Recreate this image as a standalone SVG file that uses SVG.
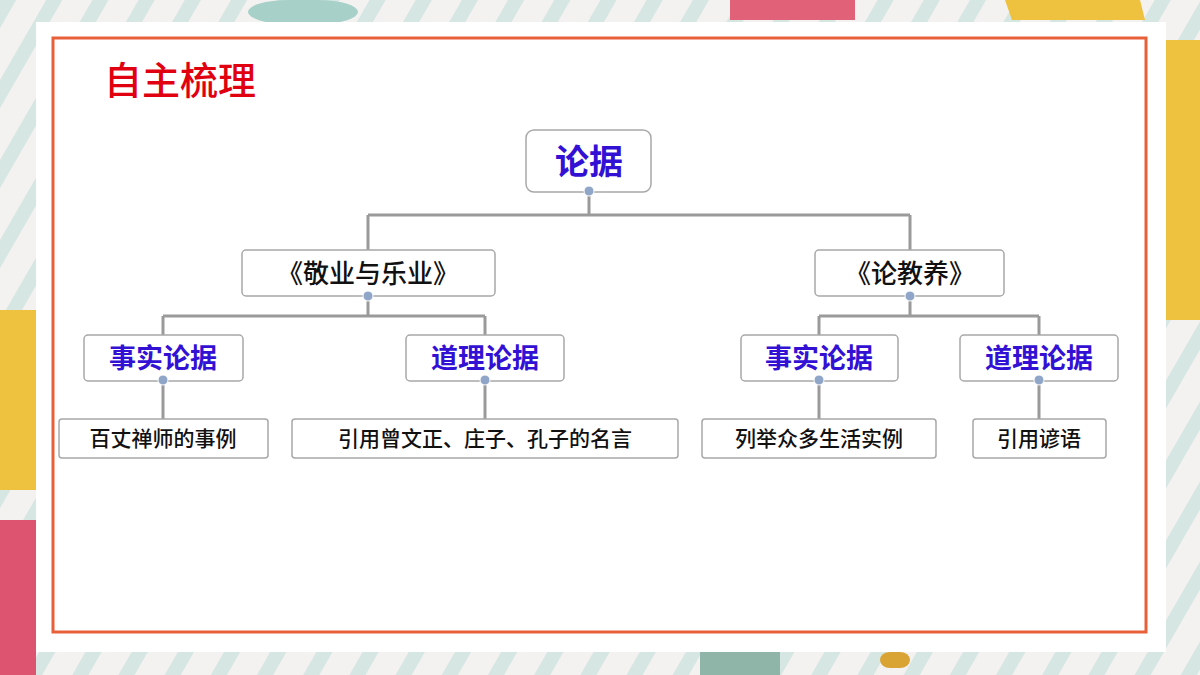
<svg xmlns="http://www.w3.org/2000/svg" width="1200" height="675" viewBox="0 0 1200 675">
<defs>
<pattern id="st" width="40" height="40" patternUnits="userSpaceOnUse" patternTransform="rotate(30)">
<rect width="40" height="40" fill="#f4f1f1"/><rect width="14" height="40" fill="#d6e6e2"/>
</pattern>
<style>
.b{fill:#fff;stroke:#a8a8a8;stroke-width:1.5}
.c{fill:#8fa6c8;stroke:#fff;stroke-width:1}
.l{fill:none;stroke:#9a9a9a;stroke-width:3}
.t{font-family:"Liberation Sans","Noto Sans CJK SC",sans-serif;text-anchor:middle}
.h{fill:#3311d4;font-weight:bold;font-size:27px}
.k{fill:#111;font-size:26px;font-weight:500}
.f{fill:#111;font-size:21px;font-weight:500}
</style>
</defs>
<rect width="1200" height="675" fill="url(#st)"/>
<rect x="248" y="0" width="110" height="24" rx="40" fill="#a7d1c8"/>
<rect x="730" y="0" width="125" height="20" fill="#e06178"/>
<polygon points="1005,0 1140,0 1145,20 1012,20" fill="#eec13e"/>
<rect x="1160" y="40" width="40" height="280" fill="#eec13e"/>
<rect x="0" y="310" width="36" height="180" fill="#eec13e"/>
<rect x="0" y="520" width="36" height="155" fill="#dc5470"/>
<rect x="700" y="652" width="80" height="23" fill="#8fb4a8"/>
<rect x="880" y="652" width="30" height="16" rx="10" fill="#d9a434"/>
<rect x="36" y="22" width="1130" height="630" fill="#fff"/>
<rect x="53" y="38" width="1093" height="594" fill="none" stroke="#e8603a" stroke-width="3"/>
<text x="104" y="94" font-family="'Noto Sans CJK SC',sans-serif" font-size="38" fill="#e00010" font-weight="500">自主梳理</text>
<g id="connectors">
<path class="l" d="M589 191V215M368 215H910M368 215V250M910 215V250M368 296V316M163 316H485M163 316V335M485 316V335M910 296V316M819 316H1039M819 316V335M1039 316V335M163 381V419M485 381V419M819 381V419M1039 381V419"/>
</g>
<g id="n0"><rect class="b" x="526" y="130" width="125" height="62" rx="8"/><text class="t h" x="589" y="174" style="font-size:34px">论据</text><circle class="c" cx="589" cy="191" r="5"/></g>
<g id="n1"><rect class="b" x="242" y="250" width="253" height="46" rx="4"/><text class="t k" x="368" y="283">《敬业与乐业》</text><circle class="c" cx="368" cy="296" r="5"/></g>
<g id="n2"><rect class="b" x="815" y="250" width="189" height="46" rx="4"/><text class="t k" x="910" y="283">《论教养》</text><circle class="c" cx="910" cy="296" r="5"/></g>
<g id="n3"><rect class="b" x="84" y="335" width="159" height="46" rx="4"/><text class="t h" x="163" y="368">事实论据</text><circle class="c" cx="163" cy="380" r="5"/></g>
<g id="n4"><rect class="b" x="406" y="335" width="158" height="46" rx="4"/><text class="t h" x="485" y="368">道理论据</text><circle class="c" cx="485" cy="380" r="5"/></g>
<g id="n5"><rect class="b" x="741" y="335" width="157" height="46" rx="4"/><text class="t h" x="819" y="368">事实论据</text><circle class="c" cx="819" cy="380" r="5"/></g>
<g id="n6"><rect class="b" x="960" y="335" width="158" height="46" rx="4"/><text class="t h" x="1039" y="368">道理论据</text><circle class="c" cx="1039" cy="380" r="5"/></g>
<g id="n7"><rect class="b" x="59" y="419" width="209" height="39" rx="3"/><text class="t f" x="163" y="446">百丈禅师的事例</text></g>
<g id="n8"><rect class="b" x="292" y="419" width="386" height="39" rx="3"/><text class="t f" x="485" y="446">引用曾文正、庄子、孔子的名言</text></g>
<g id="n9"><rect class="b" x="702" y="419" width="234" height="39" rx="3"/><text class="t f" x="819" y="446">列举众多生活实例</text></g>
<g id="n10"><rect class="b" x="973" y="419" width="133" height="39" rx="3"/><text class="t f" x="1039" y="446">引用谚语</text></g>
</svg>
